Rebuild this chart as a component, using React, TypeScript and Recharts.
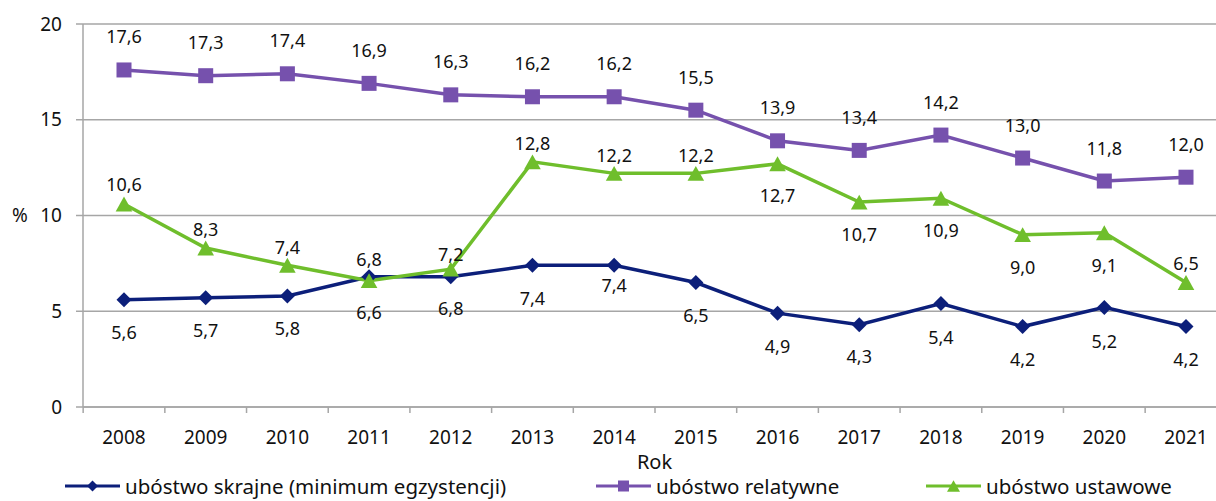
import React from 'react';
import {
  LineChart,
  Line,
  XAxis,
  YAxis,
  CartesianGrid,
  Legend,
} from 'recharts';

const years = ['2008', '2009', '2010', '2011', '2012', '2013', '2014', '2015', '2016', '2017', '2018', '2019', '2020', '2021'];
const skrajne = [5.6, 5.7, 5.8, 6.8, 6.8, 7.4, 7.4, 6.5, 4.9, 4.3, 5.4, 4.2, 5.2, 4.2];
const relatywne = [17.6, 17.3, 17.4, 16.9, 16.3, 16.2, 16.2, 15.5, 13.9, 13.4, 14.2, 13.0, 11.8, 12.0];
const ustawowe = [10.6, 8.3, 7.4, 6.6, 7.2, 12.8, 12.2, 12.2, 12.7, 10.7, 10.9, 9.0, 9.1, 6.5];
const yTicks = [0, 5, 10, 15, 20];

const data = years.map((rok, i) => ({
  rok,
  skrajne: skrajne[i],
  relatywne: relatywne[i],
  ustawowe: ustawowe[i],
}));

// label placement (vertical shift of each value label from its point, px)
const skrajneDy = [33, 33, 33, -17, 32, 33, 20, 33, 33, 32, 34, 33, 34, 33];
const relatywneDy = years.map(() => -33);
const ustawoweDy = [-20, -19, -18, 32, -15, -18, -18, -18, 32, 32, 32, 33, 33, -19];

const NAVY = '#0c1f7a';
const PURPLE = '#7651ad';
const GREEN = '#6fbe2c';
const GRID = '#a6a6a6';
const FONT = '"Noto Sans", sans-serif';
const BAND = 81.7;

const fmt = (v: number) => v.toFixed(1).replace('.', ',');

const Diamond = ({ cx, cy, r = 7.5, fill }: any) => (
  <polygon points={`${cx},${cy - r} ${cx + r},${cy} ${cx},${cy + r} ${cx - r},${cy}`} fill={fill} />
);
const Square = ({ cx, cy, r = 7.5, fill }: any) => (
  <rect x={cx - r} y={cy - r} width={r * 2} height={r * 2} fill={fill} />
);
const Triangle = ({ cx, cy, r = 8.3, fill }: any) => (
  <polygon points={`${cx},${cy - r * 0.9} ${cx + r},${cy + r * 0.9} ${cx - r},${cy + r * 0.9}`} fill={fill} />
);

const makeLabel = (offsets: number[]) => (props: any) => {
  const { x, y, value, index } = props;
  if (value == null) return null;
  return (
    <text
      key={index}
      x={x}
      y={y + offsets[index] + 6.5}
      textAnchor="middle"
      fontSize={18}
      fill="#111"
      fontFamily={FONT}
    >
      {fmt(value)}
    </text>
  );
};

const XTick = ({ x, y, payload, index }: any) => (
  <g>
    <line x1={x - BAND / 2} y1={y} x2={x - BAND / 2} y2={y + 6} stroke={GRID} strokeWidth={1.5} />
    {index === years.length - 1 && (
      <line x1={x + BAND / 2} y1={y} x2={x + BAND / 2} y2={y + 6} stroke={GRID} strokeWidth={1.5} />
    )}
    <text x={x} y={y + 37} textAnchor="middle" fontSize={19} fill="#111" fontFamily={FONT}>
      {payload.value}
    </text>
  </g>
);

const legendItems = [
  { name: 'ubóstwo skrajne (minimum egzystencji)', color: NAVY, left: 65, Shape: Diamond, r: 5.5 },
  { name: 'ubóstwo relatywne', color: PURPLE, left: 596, Shape: Square, r: 5.5 },
  { name: 'ubóstwo ustawowe', color: GREEN, left: 926, Shape: Triangle, r: 6.5 },
];

const LegendContent = () => (
  <div style={{ position: 'relative', height: 32, width: 1216 }}>
    {legendItems.map(({ name, color, left, Shape, r }) => (
      <div
        key={name}
        style={{
          position: 'absolute',
          left,
          top: 7,
          height: 20,
          display: 'flex',
          alignItems: 'center',
          whiteSpace: 'nowrap',
        }}
      >
        <svg width={55} height={20} style={{ marginRight: 5 }}>
          <line x1={0} y1={10} x2={55} y2={10} stroke={color} strokeWidth={3} />
          <Shape cx={27.5} cy={10} r={r} fill={color} />
        </svg>
        <span style={{ fontSize: 20.5, lineHeight: '20px', color: '#111', fontFamily: FONT }}>{name}</span>
      </div>
    ))}
  </div>
);

export default function App() {
  return (
    <div style={{ width: 1216, height: 501, fontFamily: FONT, overflow: 'visible' }}>
      <style>{'body{margin:0}'}</style>
      <LineChart width={1216} height={501} data={data} margin={{ top: 24, right: 0, left: 0, bottom: 0 }}>
        <CartesianGrid vertical={false} stroke={GRID} strokeWidth={1.5} />
        <XAxis
          dataKey="rok"
          stroke={GRID}
          strokeWidth={1.5}
          height={62}
          tickLine={false}
          tickSize={0}
          tickMargin={0}
          padding={{ left: 41, right: 30 }}
          interval={0}
          tick={<XTick />}
          label={{ value: 'Rok', position: 'insideBottom', offset: 0, dx: 5, fontSize: 20, fill: '#111' }}
        />
        <YAxis
          domain={[0, 20]}
          ticks={yTicks}
          width={83}
          stroke={GRID}
          strokeWidth={1.5}
          tickSize={7}
          tickMargin={14}
          tick={{ fontSize: 19, fill: '#111', fontFamily: FONT }}
          label={{ value: '%', position: 'insideLeft', offset: 12, fontSize: 19, fill: '#111' }}
        />
        <Legend verticalAlign="bottom" content={<LegendContent />} wrapperStyle={{ height: 32, left: 0, width: 1216 }} />
        <Line
          dataKey="skrajne"
          name="ubóstwo skrajne (minimum egzystencji)"
          stroke={NAVY}
          strokeWidth={3.5}
          isAnimationActive={false}
          activeDot={false}
          dot={(p: any) => <Diamond key={p.index} cx={p.cx} cy={p.cy} fill={NAVY} />}
          label={makeLabel(skrajneDy)}
        />
        <Line
          dataKey="relatywne"
          name="ubóstwo relatywne"
          stroke={PURPLE}
          strokeWidth={3.5}
          isAnimationActive={false}
          activeDot={false}
          dot={(p: any) => <Square key={p.index} cx={p.cx} cy={p.cy} fill={PURPLE} />}
          label={makeLabel(relatywneDy)}
        />
        <Line
          dataKey="ustawowe"
          name="ubóstwo ustawowe"
          stroke={GREEN}
          strokeWidth={3.5}
          isAnimationActive={false}
          activeDot={false}
          dot={(p: any) => <Triangle key={p.index} cx={p.cx} cy={p.cy} fill={GREEN} />}
          label={makeLabel(ustawoweDy)}
        />
      </LineChart>
    </div>
  );
}
